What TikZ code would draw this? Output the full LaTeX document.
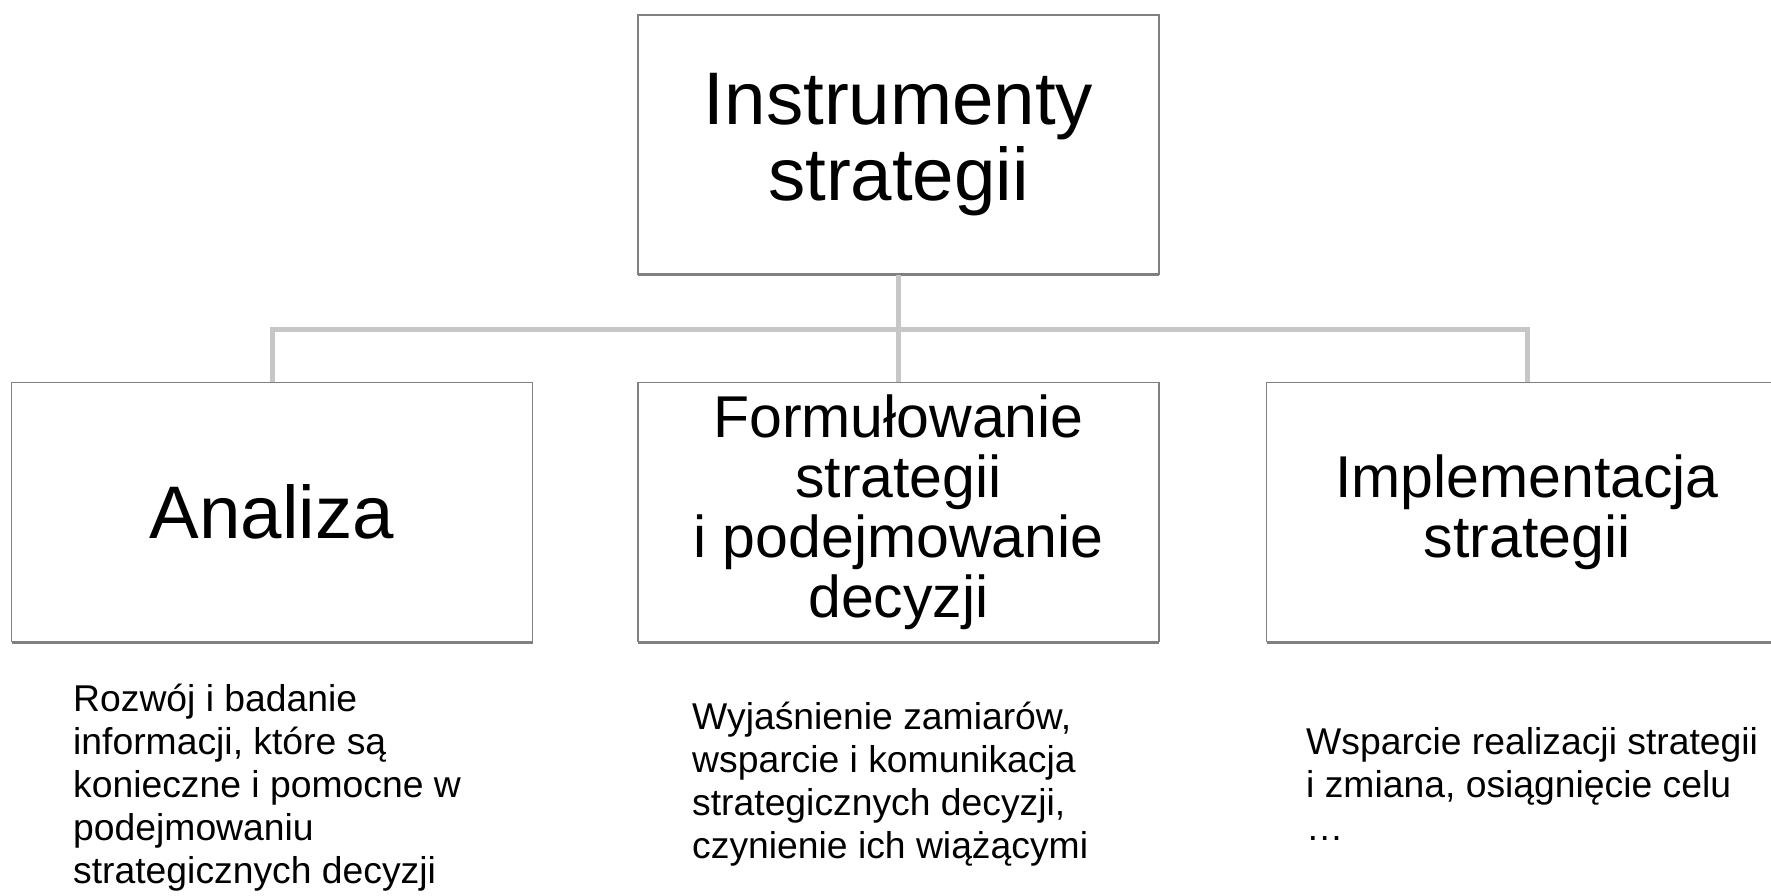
\documentclass[tikz,border=0pt]{standalone}
\usepackage{fontspec}
\setmainfont{Liberation Sans}
\usetikzlibrary{shadows}
\begin{document}
\begin{tikzpicture}[x=1pt,y=-1pt,
  box/.style={draw=black!50, line width=1.5pt, fill=white,
    minimum width=521pt, minimum height=259pt, inner sep=0pt, align=center,
    general shadow={shadow xshift=0pt, shadow yshift=-2pt, fill=black!50}},
  bigtext/.style={font=\fontsize{74.5}{76}\selectfont},
  midtext/.style={font=\fontsize{59}{60}\selectfont},
  note/.style={font=\fontsize{37.3}{43}\selectfont, align=left,
    anchor=north west, inner sep=0pt},
  link/.style={draw=black!22, line width=5pt}]
\useasboundingbox (0,0) rectangle (1771,895);

% junction of the tree connectors
\coordinate (hub) at (898.5,329.5);

% boxes
\node[box, bigtext] (root) at (898.5,144.5) {Instrumenty\\strategii};
\node[box, bigtext] (ana)  at (272,512)     {Analiza};
\node[box, midtext] (form) at (898.5,512)   {Formułowanie\\strategii\\i podejmowanie\\decyzji};
\node[box, midtext] (impl) at (1527,512)    {Implementacja\\strategii};

% tree connectors
\draw[link] (root.south) -- (root.south |- hub);
\draw[link, line join=miter] (ana.north) -- (ana.north |- hub) -- (impl.north |- hub) -- (impl.north);
\draw[link] (form.north) -- (form.north |- hub);

% descriptions below the boxes
\node[note] (anadesc) at (73,684)
  {Rozwój i badanie\\informacji, które są\\konieczne i pomocne w\\podejmowaniu\\strategicznych decyzji};
\node[note] (formdesc) at (692,702)
  {Wyjaśnienie zamiarów,\\wsparcie i komunikacja\\strategicznych decyzji,\\czynienie ich wiążącymi};
\node[note] (impldesc) at (1306,727)
  {Wsparcie realizacji strategii\\i zmiana, osiągnięcie celu\\…};
\end{tikzpicture}
\end{document}
